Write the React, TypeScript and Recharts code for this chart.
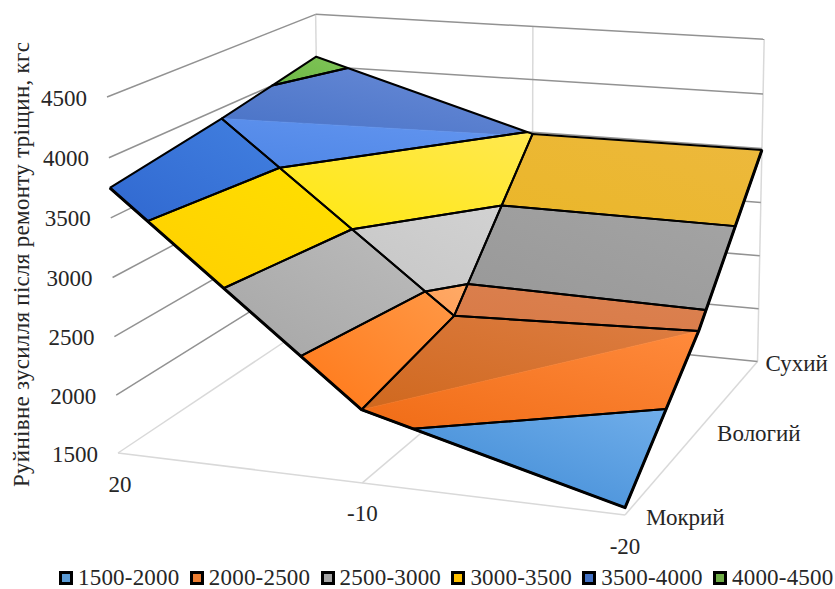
import { ScatterChart, Scatter, XAxis, YAxis, Legend } from 'recharts';

const temperatures = ['20', '-10', '-20'];
const surfaces = ['Мокрий', 'Вологий', 'Сухий'];
const wetValues = [3750, 2110, 1560];
const moistValues = [3905, 2305, 2380];
const dryValues = [4090, 3485, 3485];
const grid = [wetValues, moistValues, dryValues];
const levels = [1500, 2000, 2500, 3000, 3500, 4000, 4500];
const bandColors = ['#5B9BD5', '#ED7D31', '#A5A5A5', '#FFC000', '#4472C4', '#70AD47'];
const title = 'Руйнівне зусилля після ремонту тріщин, кгс';

const WIDTH = 835;
const HEIGHT = 589;
const LEGEND_H = 30;
const FONT = '"Liberation Serif", serif';
const INK = '#262626';

// perspective of the box: three floor corners, the top of the front corner and the depth falloff
const FL = [118, 453];
const FR = [625, 515];
const BL = [320, 318];
const TOP = [107, 97];
const G = -0.07;
const H = 0.18;
const I = -0.028;

type V = { u: number; v: number; z: number };

function project(u: number, v: number, z: number) {
  const w = (z - 1500) / 3000;
  const d = 1 + G * u + H * v + I * w;
  const at = (k: number) =>
    FL[k] +
    u * ((1 + G) * FR[k] - FL[k]) +
    v * ((1 + H) * BL[k] - FL[k]) +
    w * ((1 + I) * TOP[k] - FL[k]);
  return { x: at(0) / d, y: at(1) / d };
}

const toPoints = (poly: V[]) => poly.map(p => project(p.u, p.v, p.z));
const closed = (poly: V[]) => [...toPoints(poly), project(poly[0].u, poly[0].v, poly[0].z)];

// keeps the part of a polygon where f >= 0
function clip(poly: V[], f: (p: V) => number): V[] {
  const out: V[] = [];
  poly.forEach((a, idx) => {
    const b = poly[(idx + 1) % poly.length];
    const fa = f(a);
    const fb = f(b);
    if (fa >= 0) out.push(a);
    if (fa >= 0 !== fb >= 0) {
      const t = fa / (fa - fb);
      out.push({ u: a.u + (b.u - a.u) * t, v: a.v + (b.v - a.v) * t, z: a.z + (b.z - a.z) * t });
    }
  });
  return out;
}

const node = (i: number, j: number): V => ({ u: i / 2, v: j / 2, z: grid[j][i] });

// a cell with "neg" is shaded as two triangles, "pos" and "neg" being the sides of its diagonal
type Shade = Record<number, [string, string]>;
const cells: { i: number; j: number; pos: Shade; neg?: Shade }[] = [
  {
    i: 0, j: 1,
    pos: { 3: ['#ffe850', '#ffe850'], 4: ['#4872c6', '#6a8cd8'], 5: ['#6cb844', '#80c458'] },
    neg: { 1: ['#ffa05a', '#ffaa66'], 2: ['#c6c6c6', '#d2d2d2'], 3: ['#ffe810', '#ffe850'], 4: ['#4e86e6', '#6496f0'] },
  },
  {
    i: 1, j: 1,
    pos: { 1: ['#d87a46', '#dc8252'], 2: ['#989898', '#a4a4a4'], 3: ['#eab628', '#edb93e'] },
  },
  {
    i: 0, j: 0,
    pos: { 1: ['#ff7818', '#ff9846'], 2: ['#a6a6a6', '#bcbcbc'], 3: ['#ffcf00', '#ffe000'], 4: ['#3068d0', '#4280e0'] },
  },
  {
    i: 1, j: 0,
    pos: { 1: ['#cf681e', '#de7e44'] },
    neg: { 0: ['#3c88d4', '#70aeea'], 1: ['#f06c16', '#ff8a3c'] },
  },
];

type Piece = { id: string; poly: V[]; from: string; to: string };
const pieces: Piece[] = [];
const outlines: V[][] = [];

cells.forEach(cell => {
  const { i, j } = cell;
  const quad = [node(i, j), node(i + 1, j), node(i + 1, j + 1), node(i, j + 1)];
  const a = quad[0];
  const b = quad[2];
  const side = (p: V) => (b.u - a.u) * (p.v - a.v) - (b.v - a.v) * (p.u - a.u);
  bandColors.forEach((base, band) => {
    const lo = levels[band];
    const hi = levels[band + 1];
    const poly = clip(clip(quad, p => p.z - lo), p => hi - p.z);
    if (poly.length < 3) return;
    outlines.push(poly);
    const add = (name: string, shade: Shade, part: V[]) => {
      if (part.length < 3) return;
      const [from, to] = shade[band] ?? [base, base];
      pieces.push({ id: `shade-${i}${j}-${name}-${band}`, poly: part, from, to });
    };
    if (cell.neg) {
      add('pos', cell.pos, clip(poly, side));
      add('neg', cell.neg, clip(poly, p => -side(p)));
    } else {
      add('all', cell.pos, poly);
    }
  });
});

// near rim of the surface, drawn heavier than the inner lines
const rim = [node(0, 0), node(1, 0), node(2, 0), node(2, 1), node(2, 2)];

const Blank = () => <g />;

const wallLine = (from: V, to: V) => [project(from.u, from.v, from.z), project(to.u, to.v, to.z)];
const DARK = '#929292';
const LIGHT = '#d9d9d9';
const wallLines: { pts: { x: number; y: number }[]; stroke: string }[] = [
  { pts: wallLine({ u: 0, v: 0, z: 1500 }, { u: 1, v: 0, z: 1500 }), stroke: LIGHT },
  { pts: wallLine({ u: 0, v: 0, z: 1500 }, { u: 0, v: 1, z: 1500 }), stroke: LIGHT },
  { pts: wallLine({ u: 1, v: 0, z: 1500 }, { u: 1, v: 1, z: 1500 }), stroke: LIGHT },
  { pts: wallLine({ u: 0.5, v: 0, z: 1500 }, { u: 0.5, v: 1, z: 1500 }), stroke: LIGHT },
  { pts: wallLine({ u: 0, v: 1, z: 1500 }, { u: 0, v: 1, z: 4500 }), stroke: LIGHT },
  { pts: wallLine({ u: 0.5, v: 1, z: 1500 }, { u: 0.5, v: 1, z: 4500 }), stroke: LIGHT },
  { pts: wallLine({ u: 1, v: 1, z: 1500 }, { u: 1, v: 1, z: 4500 }), stroke: LIGHT },
  ...levels.slice(1).map(z => ({ pts: wallLine({ u: 0, v: 0, z }, { u: 0, v: 1, z }), stroke: DARK })),
  ...levels.map(z => ({ pts: wallLine({ u: 0, v: 1, z }, { u: 1, v: 1, z }), stroke: DARK })),
];

type Caption = { x: number; y: number; text: string; anchor: string; angle?: number; length?: number };
const captions: Caption[] = [
  ...levels.map(z => {
    const p = project(0, 0, z);
    return { x: p.x - 20, y: p.y + 1, text: String(z), anchor: 'end' };
  }),
  ...temperatures.map((text, i) => {
    const p = project(i / 2, 0, 1500);
    return { x: p.x + (i === 0 ? 2 : 0), y: p.y + 31, text, anchor: 'middle' };
  }),
  ...surfaces.map((text, j) => {
    const p = project(1, j / 2, 1500);
    return { x: p.x + [21, 20, 8][j], y: p.y + 2, text, anchor: 'start' };
  }),
  { x: 21, y: 264.5, text: title, anchor: 'middle', angle: -90, length: 445 },
];

const CaptionMark = (props: any) => {
  const c: Caption = props.payload;
  return (
    <text
      x={props.cx}
      y={props.cy}
      fill={INK}
      fontFamily={FONT}
      fontSize={23}
      textAnchor={c.anchor}
      dominantBaseline="central"
      textLength={c.length}
      lengthAdjust={c.length ? 'spacing' : undefined}
      transform={c.angle ? `rotate(${c.angle} ${props.cx} ${props.cy})` : undefined}
    >
      {c.text}
    </text>
  );
};

const bandLabels = bandColors.map((_, k) => `${levels[k]}-${levels[k + 1]}`);

const BandLegend = () => (
  <div style={{ display: 'flex', height: LEGEND_H, boxSizing: 'border-box', paddingLeft: 59, paddingTop: 9 }}>
    {bandLabels.map((label, k) => (
      <div key={label} style={{ display: 'flex', flex: 'none', alignItems: 'center', width: 130.8, height: 20 }}>
        <span style={{ flex: 'none', width: 8, height: 8, border: '3px solid #000', background: bandColors[k], marginRight: 5 }} />
        <span style={{ fontFamily: FONT, fontSize: 23, lineHeight: '20px', letterSpacing: 0.2, color: INK, whiteSpace: 'nowrap' }}>
          {label}
        </span>
      </div>
    ))}
  </div>
);

export default function App() {
  return (
    <div style={{ position: 'absolute', left: 0, top: 0, background: '#fff' }}>
      <ScatterChart width={WIDTH} height={HEIGHT} margin={{ top: 0, right: 0, bottom: 0, left: 0 }}>
        <defs>
          {pieces.map(p => (
            <linearGradient key={p.id} id={p.id} x1="0" y1="1" x2="1" y2="0">
              <stop offset="0" stopColor={p.from} />
              <stop offset="1" stopColor={p.to} />
            </linearGradient>
          ))}
        </defs>
        <XAxis type="number" dataKey="x" domain={[0, WIDTH]} hide allowDataOverflow />
        <YAxis type="number" dataKey="y" domain={[0, HEIGHT - LEGEND_H]} reversed hide allowDataOverflow />
        <Legend verticalAlign="bottom" height={LEGEND_H} content={BandLegend} />

        {wallLines.map((l, k) => (
          <Scatter
            key={`wall-${k}`}
            data={l.pts}
            shape={Blank}
            line={{ stroke: l.stroke, strokeWidth: 1.5, fill: 'none' }}
            isAnimationActive={false}
          />
        ))}

        {pieces.map(p => (
          <Scatter
            key={p.id}
            data={closed(p.poly)}
            shape={Blank}
            line={{ stroke: `url(#${p.id})`, strokeWidth: 0.6, fill: `url(#${p.id})` }}
            isAnimationActive={false}
          />
        ))}

        {outlines.map((poly, k) => (
          <Scatter
            key={`outline-${k}`}
            data={closed(poly)}
            shape={Blank}
            line={{ stroke: '#000', strokeWidth: 2, fill: 'none', strokeLinejoin: 'round' }}
            isAnimationActive={false}
          />
        ))}

        <Scatter
          data={toPoints(rim)}
          shape={Blank}
          line={{ stroke: '#000', strokeWidth: 3, fill: 'none', strokeLinejoin: 'round' }}
          isAnimationActive={false}
        />
        <Scatter data={captions} shape={CaptionMark} isAnimationActive={false} />
      </ScatterChart>
    </div>
  );
}
